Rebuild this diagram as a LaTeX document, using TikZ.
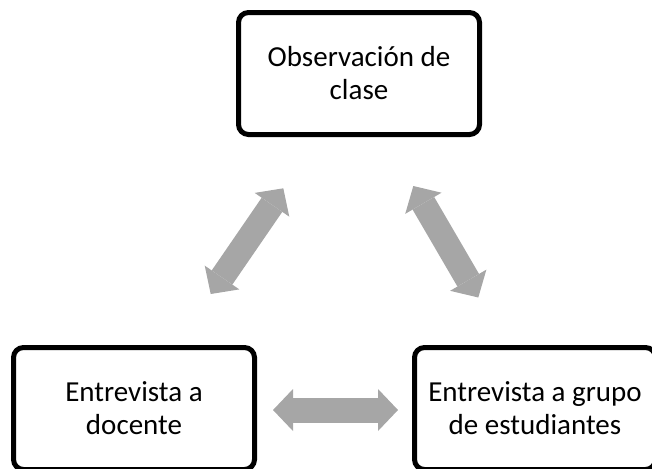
\documentclass[tikz,border=0pt]{standalone}
\usepackage{fontspec}
\setmainfont{Carlito}
\usetikzlibrary{arrows.meta}
\definecolor{arrowgray}{HTML}{A6A6A6}
\tikzset{
  box/.style={draw=black, line width=3.75pt, rounded corners=7.5pt,
    minimum width=180.75pt, minimum height=91.5pt, align=center,
    font=\fontsize{21.75pt}{24.75pt}\selectfont, inner sep=0pt},
  dblarrow/.style={draw=arrowgray, line width=18.75pt,
    {Triangle[length=15pt,width=31.5pt,line width=0pt]}-{Triangle[length=15pt,width=31.5pt,line width=0pt]}}
}
\begin{document}
\begin{tikzpicture}[x=0.75pt,y=-0.75pt]
\useasboundingbox (0,0) rectangle (652,468);
\clip (0,0) rectangle (652,468);
\node[box] (obs) at (359,73.5) {Observación de\\clase};
\node[box] (doc) at (134,408.5) {Entrevista a\\docente};
\node[box] (est) at (535,408.5) {Entrevista a grupo\\de estudiantes};
\coordinate (la) at (210.7,294);
\coordinate (lb) at (283.3,188.3);
\coordinate (ra) at (413.3,186);
\coordinate (rb) at (478.3,297.5);
\coordinate (ba) at (273,410);
\coordinate (bb) at (398,410);
\draw[dblarrow] (la) -- (lb);
\draw[dblarrow] (ra) -- (rb);
\draw[dblarrow] (ba) -- (bb);
\end{tikzpicture}
\end{document}
